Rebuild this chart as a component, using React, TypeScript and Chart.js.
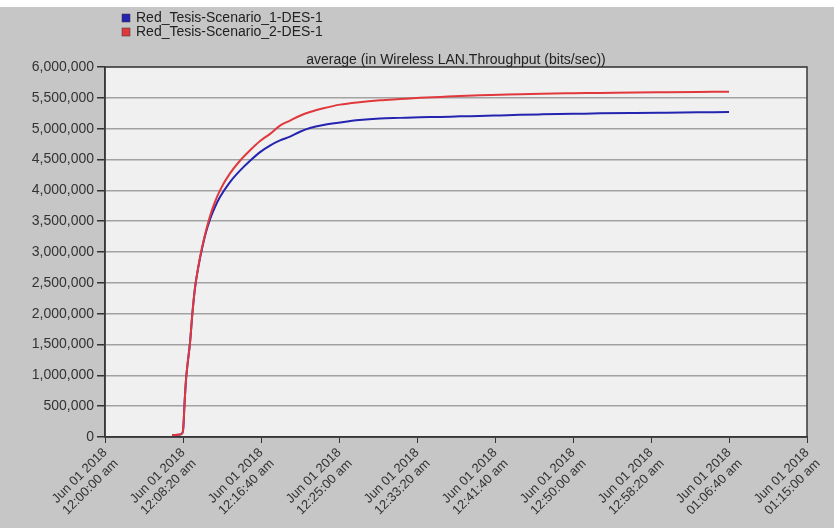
import React, { useEffect, useRef } from "react";
import { Chart, registerables } from "chart.js";

Chart.register(...registerables);

const seriesNames = ["Red_Tesis-Scenario_1-DES-1", "Red_Tesis-Scenario_2-DES-1"];
const seriesColors = ["#2424b0", "#e0383c"];
const chartTitle = "average (in Wireless LAN.Throughput (bits/sec))";
const dateLabel = "Jun 01 2018";
const tickTimes = [
  "12:00:00 am", "12:08:20 am", "12:16:40 am", "12:25:00 am", "12:33:20 am",
  "12:41:40 am", "12:50:00 am", "12:58:20 am", "01:06:40 am", "01:15:00 am",
];

// seconds since 12:00:00 am
const timeSec = [
  430, 470, 495, 502, 510, 520, 530, 545, 560, 577, 600, 620, 645, 673, 700, 737, 800, 865, 930, 994,
  1060, 1122, 1186, 1250, 1314, 1400, 1506, 1630, 1763, 1890, 2019, 2150, 2276, 2400, 2532, 2660,
  2800, 3000, 3173, 3400, 3600, 3800, 4000,
];
const scenario1 = [
  30000, 35000, 60000, 150000, 550000, 950000, 1200000, 1530000, 2000000, 2420000, 2780000, 3030000,
  3300000, 3530000, 3700000, 3890000, 4130000, 4320000, 4480000, 4620000, 4730000, 4810000, 4870000,
  4950000, 5010000, 5060000, 5100000, 5140000, 5165000, 5175000, 5185000, 5190000, 5200000, 5205000,
  5215000, 5225000, 5232000, 5240000, 5248000, 5255000, 5260000, 5265000, 5270000,
];
const scenario2 = [
  30000, 35000, 60000, 150000, 550000, 950000, 1200000, 1530000, 2000000, 2420000, 2790000, 3050000,
  3320000, 3580000, 3780000, 4000000, 4270000, 4480000, 4650000, 4800000, 4920000, 5050000, 5130000,
  5210000, 5270000, 5330000, 5390000, 5430000, 5460000, 5480000, 5500000, 5515000, 5530000, 5540000,
  5550000, 5560000, 5568000, 5575000, 5580000, 5588000, 5592000, 5596000, 5600000,
];

const FONT = "'Liberation Sans', Arial, sans-serif";

const decorPlugin = {
  id: "decor",
  beforeDraw(chart: any) {
    const { ctx, chartArea: a, width, height } = chart;
    ctx.save();
    ctx.fillStyle = "#c6c6c6";
    ctx.fillRect(0, 0, width, height);
    ctx.fillStyle = "#ffffff";
    ctx.fillRect(0, 0, width, 7);
    ctx.fillStyle = "#f0f0f0";
    ctx.fillRect(a.left, a.top, a.right - a.left, a.bottom - a.top);
    ctx.restore();
  },
  afterDraw(chart: any) {
    const { ctx, chartArea: a } = chart;
    ctx.save();
    ctx.strokeStyle = "#3a3a3a";
    ctx.lineWidth = 1.5;
    ctx.strokeRect(a.left, a.top, a.right - a.left, a.bottom - a.top);
    // legend
    ctx.font = `14px ${FONT}`;
    ctx.textBaseline = "middle";
    ctx.textAlign = "left";
    seriesNames.forEach((n, i) => {
      const y = 18 + i * 14;
      ctx.fillStyle = seriesColors[i];
      ctx.fillRect(122, y - 4, 8, 8);
      ctx.strokeStyle = "#333";
      ctx.lineWidth = 0.5;
      ctx.strokeRect(122, y - 4, 8, 8);
      ctx.fillStyle = "#222";
      ctx.fillText(n, 136, y);
    });
    // title
    ctx.textAlign = "center";
    ctx.fillStyle = "#222";
    ctx.fillText(chartTitle, (a.left + a.right) / 2, 60);
    ctx.restore();
  },
};

export default function App() {
  const ref = useRef<HTMLCanvasElement>(null);
  useEffect(() => {
    if (!ref.current) return;
    Chart.defaults.font.family = FONT;
    const mk = (vals: number[]) => timeSec.map((t, i) => ({ x: t, y: vals[i] }));
    const chart = new Chart(ref.current, {
      type: "line",
      data: {
        datasets: [
          {
            label: seriesNames[1],
            data: mk(scenario2),
            borderColor: seriesColors[1],
            borderWidth: 2,
            pointRadius: 0,
            cubicInterpolationMode: "monotone",
          },
          {
            label: seriesNames[0],
            data: mk(scenario1),
            borderColor: seriesColors[0],
            borderWidth: 2,
            pointRadius: 0,
            cubicInterpolationMode: "monotone",
          },
        ],
      },
      options: {
        animation: false,
        responsive: false,
        devicePixelRatio: 1,
        layout: { padding: { top: 67, right: 27, left: 0, bottom: 0 } },
        plugins: { legend: { display: false }, title: { display: false }, tooltip: { enabled: false } },
        scales: {
          x: {
            type: "linear",
            min: 0,
            max: 4500,
            afterFit: (s: any) => { s.height = 91; },
            afterBuildTicks: (s: any) => {
              s.ticks = tickTimes.map((_, i) => ({ value: i * 500 }));
            },
            ticks: {
              autoSkip: false,
              maxRotation: 45,
              minRotation: 45,
              color: "#333",
              font: { size: 13 },
              padding: 2,
              callback: (v: any) => [dateLabel, tickTimes[Math.round(Number(v) / 500)]],
            },
            grid: { drawOnChartArea: false, tickLength: 6, tickColor: "#333" },
            border: { display: true, color: "#333", width: 1.5 },
          },
          y: {
            min: 0,
            max: 6000000,
            afterFit: (s: any) => { s.width = 105; },
            ticks: {
              stepSize: 500000,
              color: "#333",
              font: { size: 14 },
              padding: 3,
              callback: (v: any) => Number(v).toLocaleString("en-US"),
            },
            grid: { color: "#a2a2a2", lineWidth: 1.5, tickLength: 8, tickColor: "#333" },
            border: { display: true, color: "#333", width: 1.5 },
          },
        },
      },
      plugins: [decorPlugin],
    });
    return () => chart.destroy();
  }, []);
  return (
    <div style={{ position: "absolute", left: 0, top: 0, width: 834, height: 528 }}>
      <canvas ref={ref} width={834} height={528} />
    </div>
  );
}
